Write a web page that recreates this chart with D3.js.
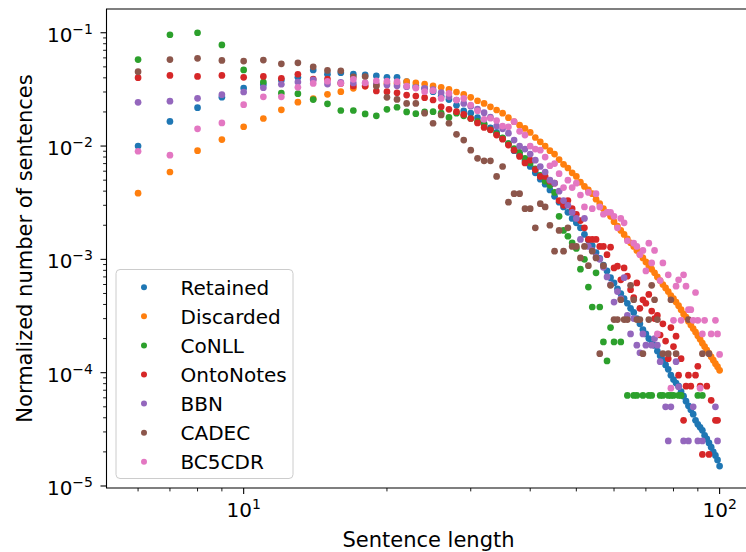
<!DOCTYPE html>
<html>
<head>
<meta charset="utf-8">
<script src="https://cdn.jsdelivr.net/npm/d3@7"></script>
<style>
  body { margin: 0; background: #fff; }
  svg text { font-family: 'DejaVu Sans', sans-serif; fill: #000; }
</style>
</head>
<body>
<script>
const lengths = [
  6, 7, 8, 9, 10, 11, 12, 13, 14, 15,
  16, 17, 18, 19, 20, 21, 22, 23, 24, 25,
  26, 27, 28, 29, 30, 31, 32, 33, 34, 35,
  36, 37, 38, 39, 40, 41, 42, 43, 44, 45,
  46, 47, 48, 49, 50, 51, 52, 53, 54, 55,
  56, 57, 58, 59, 60, 61, 62, 63, 64, 65,
  66, 67, 68, 69, 70, 71, 72, 73, 74, 75,
  76, 77, 78, 79, 80, 81, 82, 83, 84, 85,
  86, 87, 88, 89, 90, 91, 92, 93, 94, 95,
  96, 97, 98, 99, 100
];

const retained = [
  0.0100, 0.0165, 0.0218, 0.027, 0.0325, 0.035, 0.0383, 0.0404, 0.0469, 0.0431,
  0.0444, 0.0431, 0.0424, 0.0417, 0.0404, 0.0404, 0.037, 0.0339, 0.0324, 0.0302,
  0.0275, 0.0257, 0.0229, 0.0204, 0.0195, 0.0178, 0.0158, 0.0145, 0.0132, 0.0117,
  0.0105, 0.0091, 0.0083, 0.0074, 0.0066, 0.0058, 0.0051, 0.0046, 0.0041, 0.0036,
  0.0032, 0.0029, 0.0026, 0.0023, 0.0021, 0.0019, 0.00166, 0.00148, 0.00132, 0.00115,
  0.00102, 0.00089, 0.00079, 0.00069, 0.00062, 0.00055, 0.0005, 0.00045, 0.00041, 0.00037,
  0.00034, 0.0003, 0.00027, 0.00024, 0.00022, 0.0002, 0.00018, 0.000174, 0.000155, 0.000141,
  0.000129, 0.000117, 0.000107, 0.000095, 0.000087, 0.000081, 0.000076, 0.000068, 0.000062, 0.000056,
  0.000051, 0.000047, 0.000043, 0.000038, 0.000035, 0.000033, 0.000031, 0.000028, 0.000026, 0.000024,
  0.000022, 0.00002, 0.0000186, 0.000017, 0.000015
];

const discarded = [
  0.00384, 0.0059, 0.0091, 0.0114, 0.0148, 0.0175, 0.0209, 0.0244, 0.0262, 0.0286,
  0.0302, 0.0323, 0.0338, 0.0346, 0.0357, 0.0357, 0.037, 0.0362, 0.0352, 0.0339,
  0.033, 0.0316, 0.03, 0.0286, 0.0269, 0.0251, 0.0238, 0.0222, 0.0208, 0.0195,
  0.0178, 0.0164, 0.0153, 0.0143, 0.0132, 0.0119, 0.0109, 0.01, 0.0091, 0.0085,
  0.0076, 0.0069, 0.0064, 0.0058, 0.0054, 0.0048, 0.0044, 0.0041, 0.0038, 0.0034,
  0.0031, 0.0028, 0.0026, 0.0024, 0.00215, 0.00197, 0.0018, 0.00166, 0.00152, 0.0014,
  0.0013, 0.0012, 0.00111, 0.00103, 0.00095, 0.00088, 0.00082, 0.00076, 0.0007, 0.00065,
  0.0006, 0.00056, 0.00052, 0.00048, 0.00045, 0.00042, 0.00039, 0.00036, 0.00033, 0.00031,
  0.000285, 0.000264, 0.000245, 0.000228, 0.000212, 0.000197, 0.000182, 0.00017, 0.000158, 0.000148,
  0.000138, 0.000129, 0.00012, 0.000113, 0.000105
];

const conll = [
  0.058, 0.096, 0.1, 0.078, 0.047, 0.0367, 0.0294, 0.029, 0.0257, 0.0236,
  0.0206, 0.0206, 0.0192, 0.0185, 0.0211, 0.022, 0.02, 0.0193, 0.02, 0.0201,
  0.0195, 0.0179, 0.0195, 0.0185, 0.0175, 0.0165, 0.0155, 0.014, 0.0128, 0.0118,
  0.0105, 0.0095, 0.0088, 0.0078, 0.0071, 0.0063, 0.0055, 0.0049, 0.0045, 0.0039,
  0.0024, 0.0018, 0.0016, 0.0014, 0.00125, 0.00082, 0.001, 0.00057, 0.00038, 0.00076,
  0.00038, 0.000187, 0.000127, 0.00025, 0.000187, null, 0.000187, null, 0.000063, null,
  0.000063, 0.000063, null, 0.000063, null, 0.000063, 0.000063, null, null, 0.000063,
  0.000063, null, 0.000063, 0.000063, 0.000063, null, 0.000063, 0.000063, null, null,
  null, null, null, null, 0.000063, null, 0.000063, null, null, null,
  null, null, null, null, null
];

const ontonotes = [
  0.0401, 0.042, 0.0412, 0.042, 0.0404, 0.0412, 0.0396, 0.043, 0.039, 0.039,
  0.0357, 0.0339, 0.0338, 0.0306, 0.0302, 0.0295, 0.0282, 0.0276, 0.0267, 0.0255,
  0.0222, 0.0211, 0.0201, 0.019, 0.0175, 0.016, 0.0146, 0.0139, 0.0125, 0.0115,
  0.0102, 0.0092, 0.0081, 0.0071, 0.0075, 0.0062, 0.0054, 0.0054, 0.0049, 0.0047,
  0.0033, 0.003, 0.0033, 0.0028, 0.0025, 0.0022, 0.0019, 0.0015, 0.0015, 0.0015,
  0.0013, 0.0013, 0.0011, 0.00128, 0.00084, 0.00087, 0.00066, 0.00084, 0.00071, 0.00054,
  0.00046, 0.00062, 0.00037, 0.00044, 0.00041, 0.00049, 0.00035, 0.0003, 0.00032, 0.000215,
  0.00027, 0.00019, 0.000133, 0.00025, 0.00017, 0.00021, 0.000095, 0.000133, 0.000038, 0.000076,
  0.000095, 0.000076, null, 0.000095, 0.000114, 0.000076, 0.000019, null, 0.000076, 0.000019,
  0.000057, null, 0.000038, 0.000038, null
];

const bbn = [
  0.0243, 0.0249, 0.0264, 0.0284, 0.03, 0.0327, 0.0351, 0.0367, 0.0383, 0.0352,
  0.0365, 0.036, 0.036, 0.0353, 0.0346, 0.034, 0.0334, 0.0328, 0.0323, 0.0315,
  0.0296, 0.0272, 0.0255, 0.0238, 0.0225, 0.0212, 0.0197, 0.018, 0.015, 0.0142,
  0.013, 0.0113, 0.01, 0.0094, 0.0085, 0.0075, 0.0066, 0.0059, 0.005, 0.0047,
  0.004, 0.0033, 0.003, 0.0026, 0.0023, 0.0015, 0.0023, 0.0013, 0.0012, 0.00105,
  0.001, 0.00085, 0.0007, 0.0006, 0.00042, 0.00052, 0.00045, 0.00069, 0.00032, 0.00022,
  0.0003, 0.000175, 0.00015, 0.00022, 0.000175, null, 0.000175, 0.0002, 0.000175, 0.000125,
  null, 0.00005, 0.000025, 0.00005, null, 0.000125, 0.000075, null, 0.000025, null,
  0.000025, null, 0.00005, null, 0.000025, null, 0.000025, null, null, null,
  null, null, 0.00005, 0.000025, null
];

const cadec = [
  0.0453, 0.058, 0.0594, 0.057, 0.0562, 0.0574, 0.0532, 0.0543, 0.05, 0.0465,
  0.0462, 0.0409, 0.041, 0.0338, 0.0269, 0.0258, 0.0238, 0.0238, 0.0195, 0.0159,
  0.0188, 0.0159, 0.0127, 0.0113, 0.0092, 0.0078, 0.0074, 0.0074, 0.0054, 0.0066,
  0.0032, 0.0038, 0.0038, 0.0028, 0.0028, 0.0019, 0.0031, 0.0029, 0.002, 0.00118,
  0.0018, 0.00118, 0.0019, 0.0013, 0.0013, 0.00103, 0.0013, 0.00088, 0.00118, 0.00103,
  0.000147, 0.00088, null, 0.00059, 0.000294, 0.000294, 0.00044, 0.000294, 0.000294, 0.00059,
  0.00044, 0.000294, 0.000294, 0.000147, null, 0.000294, 0.00059, 0.00044, 0.000294, null,
  0.000147, null, 0.000147, 0.00044, null, 0.000147, null, null, null, null,
  0.000294, null, null, null, null, null, 0.000147, null, null, 0.000147,
  null, null, null, null, null
];

const bc5cdr = [
  0.009, 0.0083, 0.0142, 0.016, 0.0232, 0.0272, 0.0272, 0.033, 0.0357, 0.0373,
  0.0357, 0.0388, 0.0362, 0.0377, 0.0374, 0.037, 0.0338, 0.0325, 0.0302, 0.0308,
  0.0263, 0.0292, 0.0255, 0.0263, 0.023, 0.0205, 0.0172, 0.0176, 0.0168, 0.015,
  0.0148, 0.0164, 0.0135, 0.0125, 0.01, 0.0094, 0.0092, 0.008, 0.0067, 0.007,
  0.0057, 0.0043, 0.005, 0.0043, 0.0047, 0.0037, 0.0029, 0.0039, 0.0028, 0.0038,
  0.0029, 0.0025, 0.0026, 0.0026, 0.0024, 0.0019, 0.0023, 0.0021, 0.00146, null,
  0.00139, 0.0013, 0.0011, 0.0012, 0.00079, 0.00139, 0.00093, 0.0012, 0.00022, 0.00065,
  0.00093, null, 0.00073, 0.000073, 0.00029, 0.00058, 0.00066, 0.00029, 0.00073, 0.00058,
  0.00036, 0.00036, 0.00029, 0.00051, 0.00029, 0.000073, 0.00022, 0.00029, null, null,
  0.00022, null, 0.00029, 0.00022, 0.000145
];

const seriesNames = ['Retained', 'Discarded', 'CoNLL', 'OntoNotes', 'BBN', 'CADEC', 'BC5CDR'];
const seriesValues = [retained, discarded, conll, ontonotes, bbn, cadec, bc5cdr];
const seriesColors = ['#1f77b4', '#ff7f0e', '#2ca02c', '#d62728', '#9467bd', '#8c564b', '#e377c2'];

const xMajorTicks = [10, 100];
const xMajorExps = ['1', '2'];
const xMinorTicks = [6, 7, 8, 9, 20, 30, 40, 50, 60, 70, 80, 90];
const yMajorTicks = [1e-5, 1e-4, 1e-3, 1e-2, 1e-1];
const yMajorExps = ['\u22125', '\u22124', '\u22123', '\u22122', '\u22121'];

const width = 746;
const height = 552;
const margin = { left: 106.5, top: 9, right: 751, bottom: 488 };

const x = d3.scaleLog()
  .domain([5.15, 116.4])
  .range([margin.left, margin.right]);

const y = d3.scaleLog()
  .domain([9.6e-6, 0.162])
  .range([margin.bottom, margin.top]);

const yMinorTicks = [];
yMajorTicks.slice(0, -1).forEach(t => {
  [2, 3, 4, 5, 6, 7, 8, 9].forEach(k => yMinorTicks.push(t * k));
});

const svg = d3.select('body')
  .append('svg')
  .attr('width', width)
  .attr('height', height);

svg.append('defs')
  .append('clipPath')
  .attr('id', 'plot-clip')
  .append('rect')
  .attr('x', margin.left)
  .attr('y', margin.top)
  .attr('width', margin.right - margin.left)
  .attr('height', margin.bottom - margin.top);

// scatter, one group per dataset, later ones drawn on top
const points = svg.append('g').attr('clip-path', 'url(#plot-clip)');

seriesNames.forEach((name, i) => {
  const data = lengths
    .map((len, j) => ({ len, value: seriesValues[i][j] }))
    .filter(d => d.value != null);

  points.append('g')
    .attr('class', 'series')
    .selectAll('circle')
    .data(data)
    .enter()
    .append('circle')
    .attr('cx', d => x(d.len))
    .attr('cy', d => y(d.value))
    .attr('r', 3.35)
    .attr('fill', seriesColors[i]);
});

// spines
const axes = svg.append('g')
  .attr('stroke', '#000')
  .attr('stroke-width', 1.1)
  .attr('fill', 'none');

axes.append('path')
  .attr('d', `M${ margin.right },${ margin.top }H${ margin.left }V${ margin.bottom }H${ margin.right }`)
  .attr('stroke-linecap', 'square');

// ticks
axes.selectAll('.x-major')
  .data(xMajorTicks)
  .enter()
  .append('line')
  .attr('x1', d => x(d)).attr('x2', d => x(d))
  .attr('y1', margin.bottom).attr('y2', margin.bottom + 6);

axes.selectAll('.x-minor')
  .data(xMinorTicks)
  .enter()
  .append('line')
  .attr('stroke-width', 0.9)
  .attr('x1', d => x(d)).attr('x2', d => x(d))
  .attr('y1', margin.bottom).attr('y2', margin.bottom + 3.4);

axes.selectAll('.y-major')
  .data(yMajorTicks)
  .enter()
  .append('line')
  .attr('y1', d => y(d)).attr('y2', d => y(d))
  .attr('x1', margin.left).attr('x2', margin.left - 6);

axes.selectAll('.y-minor')
  .data(yMinorTicks)
  .enter()
  .append('line')
  .attr('stroke-width', 0.9)
  .attr('y1', d => y(d)).attr('y2', d => y(d))
  .attr('x1', margin.left).attr('x2', margin.left - 3.4);

// tick labels as 10 with superscript exponent
const addPowerLabel = (sel, exps) => {
  sel.append('tspan').text('10');
  sel.append('tspan')
    .attr('dy', -8)
    .attr('font-size', 14)
    .text((d, i) => exps[i]);
};

svg.append('g')
  .selectAll('text')
  .data(xMajorTicks)
  .enter()
  .append('text')
  .attr('x', d => x(d))
  .attr('y', 517)
  .attr('text-anchor', 'middle')
  .attr('font-size', 20)
  .call(addPowerLabel, xMajorExps);

svg.append('g')
  .selectAll('text')
  .data(yMajorTicks)
  .enter()
  .append('text')
  .attr('x', 93)
  .attr('y', d => y(d) + 9)
  .attr('text-anchor', 'end')
  .attr('font-size', 20)
  .call(addPowerLabel, yMajorExps);

svg.append('text')
  .attr('x', 428.5)
  .attr('y', 546.5)
  .attr('text-anchor', 'middle')
  .attr('font-size', 21)
  .text('Sentence length');

svg.append('text')
  .attr('transform', 'translate(31.5,248.5) rotate(-90)')
  .attr('text-anchor', 'middle')
  .attr('font-size', 21)
  .text('Normalized number of sentences');

// legend
const legend = svg.append('g');

legend.append('rect')
  .attr('x', 116)
  .attr('y', 269.5)
  .attr('width', 177)
  .attr('height', 209)
  .attr('rx', 4)
  .attr('fill', '#fff')
  .attr('fill-opacity', 0.8)
  .attr('stroke', '#cccccc')
  .attr('stroke-width', 1);

const legendRows = legend.selectAll('.legend-row')
  .data(seriesNames)
  .enter()
  .append('g')
  .attr('class', 'legend-row')
  .attr('transform', (d, i) => `translate(0,${ 287.3 + i * 29.07 })`);

legendRows.append('circle')
  .attr('cx', 144)
  .attr('cy', 0)
  .attr('r', 3)
  .attr('fill', (d, i) => seriesColors[i]);

legendRows.append('text')
  .attr('x', 180.5)
  .attr('y', 7.2)
  .attr('font-size', 20)
  .text(d => d);
</script>
</body>
</html>
